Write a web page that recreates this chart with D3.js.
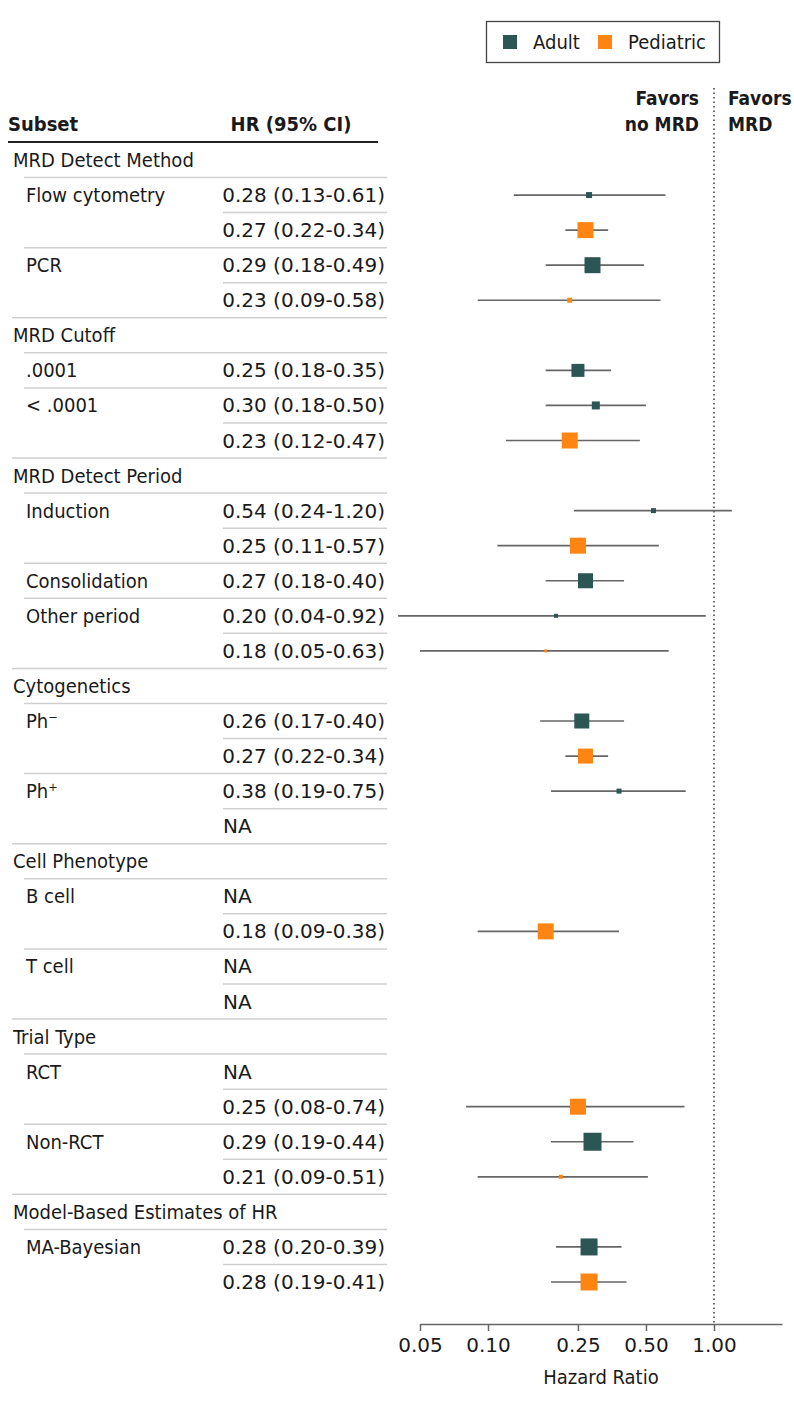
<!DOCTYPE html>
<meta charset="utf-8">
<title>MRD forest plot</title>
<style>
  body { margin: 0; background: #fff; }
  svg text { font-family: "DejaVu Sans Condensed", "DejaVu Sans", sans-serif; fill: #1a1a1a; }
  svg text.num { font-family: "DejaVu Sans", sans-serif; }
</style>
<svg width="794" height="1406"></svg>
<script src="https://d3js.org/d3.v7.min.js"></script>
<script>

// row-by-row data, top to bottom (group headers have no cohort)
var rowGroup = [
  "MRD Detect Method", "", "", "", "",
  "MRD Cutoff", "", "", "",
  "MRD Detect Period", "", "", "", "", "",
  "Cytogenetics", "", "", "", "",
  "Cell Phenotype", "", "", "", "",
  "Trial Type", "", "", "", "",
  "Model-Based Estimates of HR", "", ""
];
var rowSubset = [
  "", "Flow cytometry", "", "PCR", "",
  "", ".0001", "< .0001", "",
  "", "Induction", "", "Consolidation", "Other period", "",
  "", "Ph⁻", "", "Ph⁺", "",
  "", "B cell", "", "T cell", "",
  "", "RCT", "", "Non-RCT", "",
  "", "MA-Bayesian", ""
];
var rowCohort = [
  null, "Adult", "Pediatric", "Adult", "Pediatric",
  null, "Adult", "Adult", "Pediatric",
  null, "Adult", "Pediatric", "Adult", "Adult", "Pediatric",
  null, "Adult", "Pediatric", "Adult", "Pediatric",
  null, "Adult", "Pediatric", "Adult", "Pediatric",
  null, "Adult", "Pediatric", "Adult", "Pediatric",
  null, "Adult", "Pediatric"
];
var rowHR = [
  null, 0.28, 0.27, 0.29, 0.23,
  null, 0.25, 0.30, 0.23,
  null, 0.54, 0.25, 0.27, 0.20, 0.18,
  null, 0.26, 0.27, 0.38, null,
  null, null, 0.18, null, null,
  null, null, 0.25, 0.29, 0.21,
  null, 0.28, 0.28
];
var rowLo = [
  null, 0.13, 0.22, 0.18, 0.09,
  null, 0.18, 0.18, 0.12,
  null, 0.24, 0.11, 0.18, 0.04, 0.05,
  null, 0.17, 0.22, 0.19, null,
  null, null, 0.09, null, null,
  null, null, 0.08, 0.19, 0.09,
  null, 0.20, 0.19
];
var rowHi = [
  null, 0.61, 0.34, 0.49, 0.58,
  null, 0.35, 0.50, 0.47,
  null, 1.20, 0.57, 0.40, 0.92, 0.63,
  null, 0.40, 0.34, 0.75, null,
  null, null, 0.38, null, null,
  null, null, 0.74, 0.44, 0.51,
  null, 0.39, 0.41
];
// study weight, shown as the square's side
var rowWeight = [
  0, 6, 16, 16, 5,
  0, 13, 8, 16,
  0, 5, 16, 15, 4, 3,
  0, 15, 15, 5, 0,
  0, 0, 16, 0, 0,
  0, 0, 16, 18, 4,
  0, 17, 17
];

var cohorts = ["Adult", "Pediatric"];
var tickVals = [0.05, 0.10, 0.25, 0.50, 1.00];

var svg = d3.select("svg");
var fs = 20;

var color = d3.scaleOrdinal().domain(cohorts).range(["#2b5654", "#ff8512"]);
var x = d3.scaleLog().domain([0.05, 2.0]).range([420, 782]);
var y = d3.scalePoint().domain(d3.range(rowGroup.length)).range([160, 1282]);
var step = y.step();
var fmt = d3.format(".2f");

// legend
var legend = svg.append("g");
legend.append("rect")
  .attr("x", 486.5).attr("y", 21.5).attr("width", 233).attr("height", 41)
  .attr("fill", "none").attr("stroke", "#444").attr("stroke-width", 1.3);
var lx = [503, 598];
cohorts.forEach(function(c, i) {
  legend.append("rect").attr("x", lx[i]).attr("y", 35).attr("width", 14).attr("height", 14)
    .attr("fill", color(c));
  legend.append("text").attr("x", lx[i] + 30).attr("y", 42).attr("dy", "0.35em")
    .attr("font-size", fs).text(c);
});

// column headers
svg.append("text").attr("x", 8).attr("y", 131).attr("font-size", fs)
  .attr("font-weight", "bold").text("Subset");
svg.append("text").attr("x", 291).attr("y", 131).attr("font-size", fs)
  .attr("font-weight", "bold").attr("text-anchor", "middle").text("HR (95% CI)");
svg.append("line").attr("x1", 8).attr("x2", 378).attr("y1", 142).attr("y2", 142)
  .attr("stroke", "#222").attr("stroke-width", 2);

var fav = svg.append("g").attr("font-size", 19).attr("font-weight", "bold");
fav.append("text").attr("x", 699).attr("y", 105).attr("text-anchor", "end").text("Favors");
fav.append("text").attr("x", 699).attr("y", 131).attr("text-anchor", "end").text("no MRD");
fav.append("text").attr("x", 728).attr("y", 105).text("Favors");
fav.append("text").attr("x", 728).attr("y", 131).text("MRD");

// separators between rows
var seps = svg.append("g");
for (var i = 0; i < rowGroup.length - 1; i++) {
  var x1;
  if (rowGroup[i + 1]) x1 = 12;
  else if (rowGroup[i] || rowSubset[i + 1]) x1 = 24;
  else x1 = 223;
  seps.append("line")
    .attr("x1", x1).attr("x2", 387)
    .attr("y1", y(i) + step / 2).attr("y2", y(i) + step / 2)
    .attr("stroke", "#cfcfcf").attr("stroke-width", 1.5);
}

// reference line at HR = 1
svg.append("line")
  .attr("x1", x(1)).attr("x2", x(1)).attr("y1", 88).attr("y2", 1324)
  .attr("stroke", "#222").attr("stroke-width", 1.3).attr("stroke-dasharray", "1.5,3");

var rows = svg.append("g").selectAll("g")
  .data(d3.range(rowGroup.length))
  .enter().append("g")
  .attr("transform", function(i) { return "translate(0," + y(i) + ")"; });

rows.append("text")
  .attr("x", function(i) { return rowGroup[i] ? 13 : 26; })
  .attr("dy", "0.35em").attr("font-size", fs)
  .text(function(i) { return rowGroup[i] || rowSubset[i]; });

rows.filter(function(i) { return rowCohort[i]; })
  .append("text")
  .attr("class", "num")
  .attr("x", function(i) { return rowHR[i] == null ? 223 : 385; })
  .attr("text-anchor", function(i) { return rowHR[i] == null ? "start" : "end"; })
  .attr("dy", "0.35em").attr("font-size", fs)
  .text(function(i) {
    if (rowHR[i] == null) return "NA";
    return fmt(rowHR[i]) + " (" + fmt(rowLo[i]) + "-" + fmt(rowHi[i]) + ")";
  });

var est = rows.filter(function(i) { return rowHR[i] != null; });
est.append("line")
  .attr("x1", function(i) { return x(rowLo[i]); })
  .attr("x2", function(i) { return x(rowHi[i]); })
  .attr("stroke", "#666").attr("stroke-width", 1.7);
est.append("rect")
  .attr("x", function(i) { return x(rowHR[i]) - rowWeight[i] / 2; })
  .attr("y", function(i) { return -rowWeight[i] / 2; })
  .attr("width", function(i) { return rowWeight[i]; })
  .attr("height", function(i) { return rowWeight[i]; })
  .attr("fill", function(i) { return color(rowCohort[i]); });

// axis
var axis = svg.append("g").attr("transform", "translate(0,1324)")
  .call(d3.axisBottom(x).tickValues(tickVals).tickFormat(fmt).tickSize(7).tickSizeOuter(0));
axis.select(".domain").attr("stroke", "#666").attr("stroke-width", 1.5);
axis.selectAll(".tick line").attr("stroke", "#666").attr("stroke-width", 1.5);
axis.selectAll(".tick text").attr("class", "num").attr("font-size", fs)
  .attr("fill", "#1a1a1a").attr("y", 14);

svg.append("text").attr("x", 601).attr("y", 1384).attr("font-size", fs)
  .attr("text-anchor", "middle").text("Hazard Ratio");

</script>
